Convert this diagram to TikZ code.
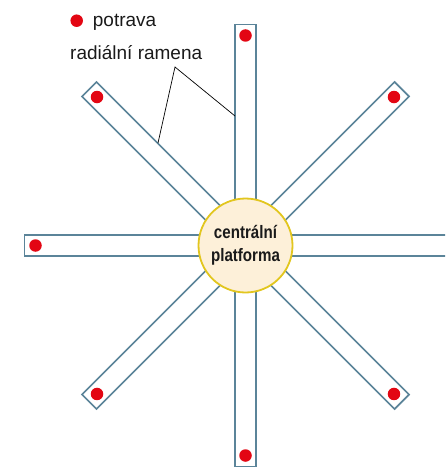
\documentclass[tikz,border=0pt]{standalone}
\usepackage{fontspec}
\usetikzlibrary{calc}
\setmainfont{Liberation Sans}
\newfontfamily\condfont[FakeStretch=0.84]{Liberation Sans}
\definecolor{armblue}{HTML}{5B8499}
\definecolor{foodred}{HTML}{E30613}
\definecolor{platfill}{HTML}{FDF0D9}
\definecolor{platedge}{HTML}{E2C61E}
\definecolor{txt}{HTML}{1A1A1A}
\tikzset{
  arm/.style={draw=armblue, line width=1.7pt, fill=white, anchor=west,
    minimum width=221pt, minimum height=20.5pt, inner sep=0pt, outer sep=0pt},
  food/.style={circle, fill=foodred, minimum size=12.5pt, inner sep=0pt},
  platform/.style={circle, draw=platedge, line width=1.8pt, fill=platfill,
    minimum size=94pt, inner sep=0pt, align=center, text=txt,
    font=\condfont\bfseries\fontsize{18}{22.5}\selectfont},
  lbl/.style={text=txt, font=\fontsize{19}{22}\selectfont, inner sep=0pt, anchor=base west},
  leader/.style={draw=black, line width=0.7pt}
}
\begin{document}
\begin{tikzpicture}[x=1pt,y=-1pt]
\useasboundingbox (0,0) rectangle (445,468);
\clip (0,0) rectangle (445,468);
\coordinate (C) at (245.5,245.5);
% arms
\foreach \a in {0,45,90,135,180,225,270,315}{
  \node[arm, rotate=\a] (arm\a) at (C) {};
}
% food dots
\foreach \a in {45,90,135,180,225,270,315}{
  \node[food] (food\a) at ($(C)+(\a:210pt)$) {};
}
% platform
\node[platform] (plat) at (C) {centrální\\platforma};
% legend
\node[food] (legdot) at (76.7,20.7) {};
\node[lbl] (legtxt) at (92.7,26.7) {potrava};
\node[lbl] (armlbl) at (70,59.3) {radiální ramena};
\coordinate (lead) at (175,67);
\coordinate (endA) at (158,143);
\coordinate (endB) at (235,116);
\draw[leader] (endA) -- (lead) -- (endB);
\end{tikzpicture}
\end{document}
